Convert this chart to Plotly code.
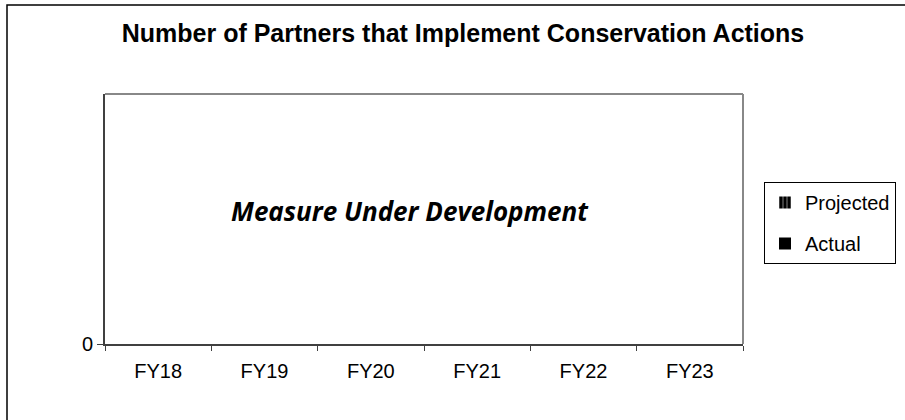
import plotly.graph_objects as go

categories = ["FY18", "FY19", "FY20", "FY21", "FY22", "FY23"]
projected = [0, 0, 0, 0, 0, 0]
actual = [0, 0, 0, 0, 0, 0]
y_ticks = [0]
y_tick_labels = ["0"]

W, H = 905, 420
L, R, T, B = 105, 162, 94, 76
pw, ph = W - L - R, H - T - B

def px(x):
    return (x - L) / pw

def py(y):
    return (H - B - y) / ph

fig = go.Figure()
fig.add_trace(go.Bar(
    x=categories, y=projected, name="Projected",
    marker=dict(color="black", line=dict(color="black", width=0),
                pattern=dict(shape="|", fgcolor="white", bgcolor="black", size=5, solidity=0.25)),
    legendgroup="p",
))
fig.add_trace(go.Bar(
    x=categories, y=actual, name="Actual",
    marker=dict(color="black", line=dict(color="black", width=0)),
    legendgroup="a",
))

fig.update_layout(
    width=W, height=H,
    margin=dict(l=L, r=R, t=T, b=B, autoexpand=False),
    paper_bgcolor="white", plot_bgcolor="white",
    font=dict(family="Liberation Sans, Arial, sans-serif", size=20, color="black"),
    title=dict(text="<b>Number of Partners that Implement Conservation Actions</b>",
               x=463 / W, xanchor="center", y=1 - 33 / H, yanchor="middle",
               font=dict(size=25, family="Liberation Sans, Arial, sans-serif", color="black")),
    showlegend=True,
    legend=dict(x=px(764), y=py(182), xanchor="left", yanchor="top",
                bordercolor="black", borderwidth=1, bgcolor="white",
                font=dict(size=20), tracegroupgap=12, traceorder="grouped",
                itemwidth=30),
    xaxis=dict(type="category", showline=True, linecolor="#404040", linewidth=2,
               ticks="outside", ticklen=5, tickcolor="#404040", tickwidth=1,
               tickson="boundaries", showgrid=False, zeroline=False,
               tickfont=dict(size=20), ticklabelstandoff=8),
    yaxis=dict(range=[0, 1], tickvals=y_ticks, ticktext=y_tick_labels,
               showline=True, linecolor="#404040", linewidth=2,
               ticks="outside", ticklen=6, tickcolor="#404040", tickwidth=1,
               showgrid=False, zeroline=False, tickfont=dict(size=20)),
    bargap=0.3,
)

# gray plot-area frame (top & right)
fig.add_shape(type="line", xref="paper", yref="paper", x0=0, x1=1, y0=1, y1=1,
              line=dict(color="#888888", width=2))
fig.add_shape(type="line", xref="paper", yref="paper", x0=1, x1=1, y0=0, y1=1,
              line=dict(color="#888888", width=2))
# outer chart border
fig.add_shape(type="rect", xref="paper", yref="paper",
              x0=px(7), x1=px(W + 10), y0=py(H + 10), y1=py(5),
              line=dict(color="black", width=1.5))

fig.add_annotation(text="<b><i>Measure Under Development</i></b>",
                   xref="paper", yref="paper", x=px(410), y=py(211),
                   showarrow=False, xanchor="center", yanchor="middle",
                   font=dict(family="Open Sans, Lato, sans-serif", size=26, color="black"))

fig.write_html("out.html", config={"displayModeBar": False},
               post_script="document.body.style.margin='0';")
